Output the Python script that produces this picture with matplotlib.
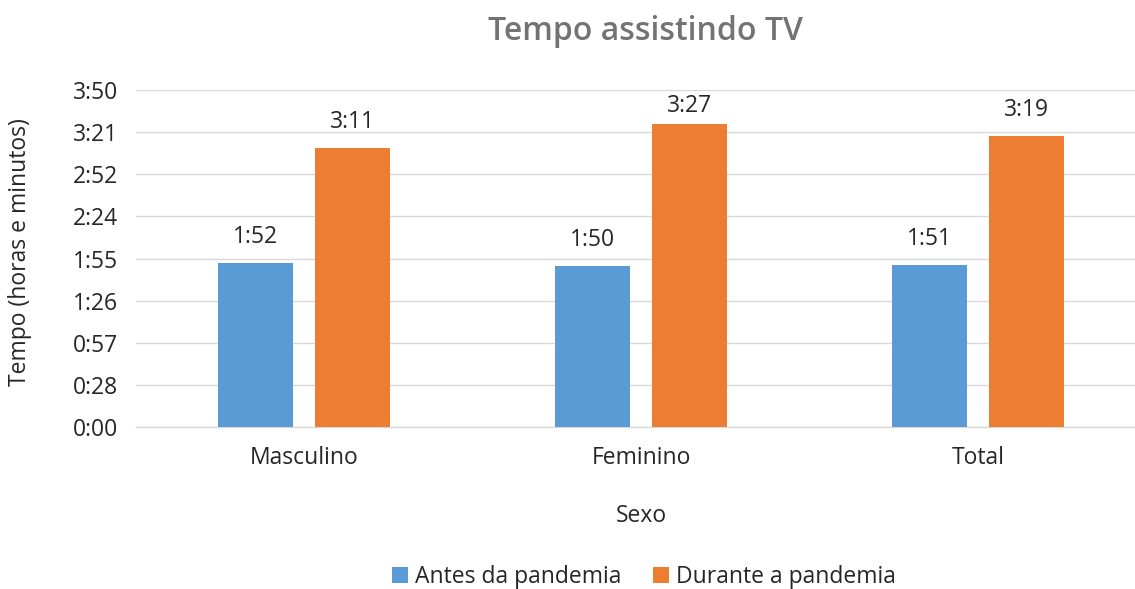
import numpy as np
import matplotlib.pyplot as plt

# dados (minutos)
categorias = ["Masculino", "Feminino", "Total"]
antes = [112, 110, 111]      # 1:52, 1:50, 1:51
durante = [191, 207, 199]    # 3:11, 3:27, 3:19
series = ["Antes da pandemia", "Durante a pandemia"]

azul = "#5b9bd5"
laranja = "#ed7d31"
texto = "#262626"

plt.rcParams['font.family'] = ['Open Sans', 'DejaVu Sans']


def hm(m):
    m = int(round(m, 6))
    return f"{m // 60}:{m % 60:02d}"


def hm_trunc(m, pos=None):
    m = int(np.floor(m + 1e-6))
    return f"{m // 60}:{m % 60:02d}"


W, H = 1135, 589
topo = 230.4
fig = plt.figure(figsize=(W / 100, H / 100), dpi=100)
ax = fig.add_axes([136 / W, 1 - 427 / H, 1 - 136 / W, (427 - 90) / H])
px_min = (427 - 90) / topo  # pixels por minuto

x = np.arange(len(categorias))
larg = 0.223
desl = 0.144
b1 = ax.bar(x - desl, antes, larg, color=azul, label=series[0], zorder=3)
b2 = ax.bar(x + desl, durante, larg, color=laranja, label=series[1], zorder=3)

fs = 16.5
for barras, vals in [(b1, antes), (b2, durante)]:
    for r, v in zip(barras, vals):
        # rótulo fica dentro da área do gráfico (como no Excel)
        off = min(10, (topo - v) * px_min * 0.72 - 20)
        ax.annotate(hm(v), (r.get_x() + r.get_width() / 2, v),
                    xytext=(0, off), textcoords="offset points",
                    ha="center", va="bottom", fontsize=fs, color=texto)

ax.set_xlim(-0.5, 2 + (W - 978) / 336.7)
ax.set_ylim(0, topo)
ax.set_yticks(np.arange(0, 231, 28.8))
ax.yaxis.set_major_formatter(plt.FuncFormatter(hm_trunc))
ax.set_xticks(x)
ax.set_xticklabels(categorias)
ax.tick_params(axis="both", length=0, labelsize=fs, colors=texto)
ax.tick_params(axis="y", pad=13)
ax.tick_params(axis="x", pad=14)

ax.grid(axis="y", color="#d9d9d9", linewidth=1.0, zorder=0)
for s in ["top", "right", "left"]:
    ax.spines[s].set_visible(False)
ax.spines["bottom"].set_color("#d9d9d9")
ax.spines["bottom"].set_linewidth(1.0)

fig.text(645 / W, 1 - 31 / H, "Tempo assistindo TV", ha="center", va="center",
         fontsize=23, fontweight="semibold", color="#737373")
fig.text(641 / W, 1 - 516 / H, "Sexo", ha="center", va="center",
         fontsize=fs, color=texto)
fig.text(20 / W, 1 - 252 / H, "Tempo (horas e minutos)", ha="center", va="center",
         rotation=90, fontsize=fs, color=texto)

fig.legend(handles=[b1, b2], labels=series, loc="center",
           bbox_to_anchor=(644 / W, 1 - 577 / H), ncol=2, frameon=False,
           fontsize=fs, handlelength=0.7, handleheight=0.7,
           handletextpad=0.3, columnspacing=1.4, labelcolor=texto)

fig.savefig("out.png", dpi=100)
